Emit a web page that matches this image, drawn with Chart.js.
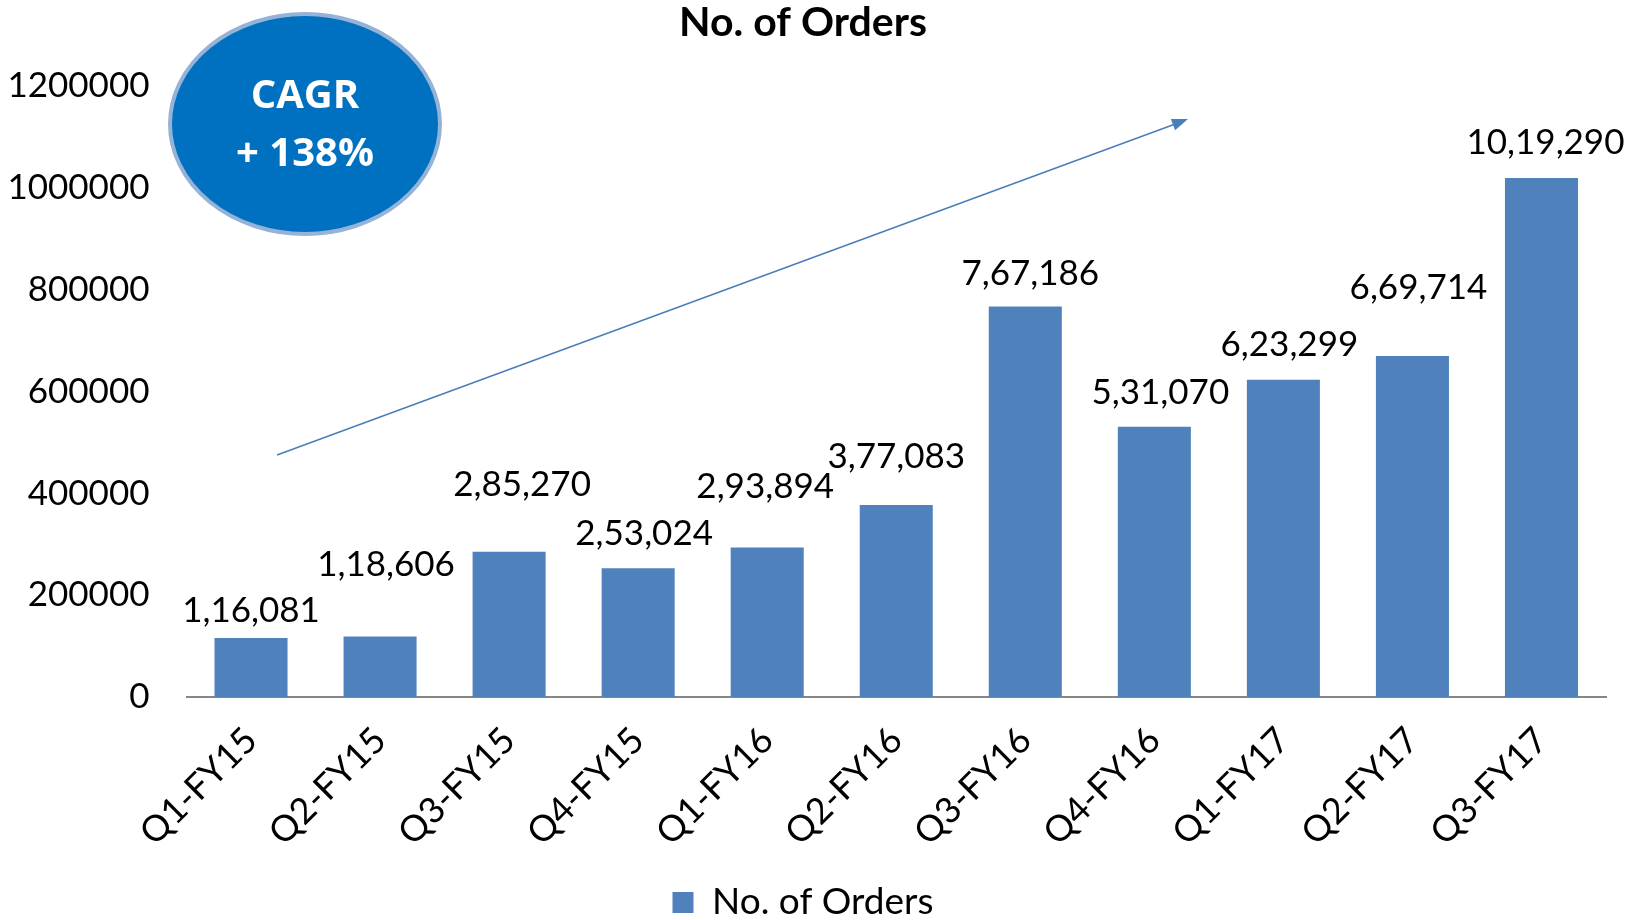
<!DOCTYPE html>
<html>
<head>
<meta charset="utf-8">
<title>No. of Orders</title>
<script src="https://cdn.jsdelivr.net/npm/chart.js@4.4.1/dist/chart.umd.min.js"></script>
<style>
  html, body { margin: 0; padding: 0; background: #fff; overflow: hidden; }
  #wrap { width: 1643px; height: 931px; }
</style>
</head>
<body>
<div id="wrap"><canvas id="myChart"></canvas></div>
<script>
// data
var quarters = ["Q1-FY15","Q2-FY15","Q3-FY15","Q4-FY15","Q1-FY16","Q2-FY16","Q3-FY16","Q4-FY16","Q1-FY17","Q2-FY17","Q3-FY17"];
var orders = [116081, 118606, 285270, 253024, 293894, 377083, 767186, 531070, 623299, 669714, 1019290];
var orderLabels = ["1,16,081","1,18,606","2,85,270","2,53,024","2,93,894","3,77,083","7,67,186","5,31,070","6,23,299","6,69,714","10,19,290"];
var yTicks = [0, 200000, 400000, 600000, 800000, 1000000, 1200000];
var cagrText = ["CAGR", "+ 138%"];

var barBlue = "#4F81BD";
var font = "Lato";

// hand nudges of the value labels (pixels, relative to bar top)
var labelDx = [0, 6, 13, 6, -2, 0, 5, 6, 6, 6, 4];
var labelDy = [-27, -72, -67, -34, -61, -48, -33, -34, -35, -68, -35];

// value labels above bars
var valueLabels = {
  id: "valueLabels",
  afterDatasetsDraw: function(chart) {
    var ctx = chart.ctx;
    var meta = chart.getDatasetMeta(0);
    ctx.save();
    ctx.font = "35px " + font;
    ctx.fillStyle = "#000";
    ctx.textAlign = "center";
    ctx.textBaseline = "middle";
    meta.data.forEach(function(bar, i) {
      ctx.fillText(orderLabels[i], bar.x + labelDx[i], bar.y + labelDy[i]);
    });
    ctx.restore();
  }
};

// CAGR bubble + trend arrow
var extras = {
  id: "extras",
  afterDraw: function(chart) {
    var ctx = chart.ctx;
    ctx.save();
    // arrow
    var x1 = 277, y1 = 455, x2 = 1188, y2 = 119;
    ctx.strokeStyle = "#4A7EBB";
    ctx.fillStyle = "#4A7EBB";
    ctx.lineWidth = 1.6;
    ctx.beginPath();
    ctx.moveTo(x1, y1);
    ctx.lineTo(x2 - 10, y2 + 4);
    ctx.stroke();
    var a = Math.atan2(y2 - y1, x2 - x1);
    ctx.beginPath();
    ctx.moveTo(x2, y2);
    ctx.lineTo(x2 - 16 * Math.cos(a) + 6 * Math.sin(a), y2 - 16 * Math.sin(a) - 6 * Math.cos(a));
    ctx.lineTo(x2 - 16 * Math.cos(a) - 6 * Math.sin(a), y2 - 16 * Math.sin(a) + 6 * Math.cos(a));
    ctx.closePath();
    ctx.fill();
    // bubble
    ctx.beginPath();
    ctx.ellipse(305, 124, 135, 110, 0, 0, Math.PI * 2);
    ctx.fillStyle = "#0070C0";
    ctx.fill();
    ctx.lineWidth = 4;
    ctx.strokeStyle = "#95B3D7";
    ctx.stroke();
    ctx.fillStyle = "#fff";
    ctx.font = "bold 40px 'Open Sans'";
    ctx.textAlign = "center";
    ctx.textBaseline = "middle";
    ctx.fillText(cagrText[0], 305, 97);
    ctx.fillText(cagrText[1], 305, 155);
    ctx.restore();
  }
};

var ctx = document.getElementById("myChart").getContext("2d");
var myChart = new Chart(ctx, {
  type: "bar",
  data: {
    labels: quarters,
    datasets: [{
      label: "No. of Orders",
      data: orders,
      backgroundColor: barBlue,
      categoryPercentage: 1,
      barPercentage: 0.566
    }]
  },
  options: {
    responsive: true,
    maintainAspectRatio: false,
    animation: false,
    layout: { padding: { left: 0, right: 37, top: 0, bottom: 0 } },
    plugins: {
      title: {
        display: true,
        text: "No. of Orders",
        color: "#000",
        font: { family: font, size: 41, weight: "bold", lineHeight: 1.1 },
        padding: { top: 0, bottom: 41 }
      },
      legend: {
        display: true,
        position: "bottom",
        labels: {
          color: "#000",
          font: { family: font, size: 37 },
          boxWidth: 21,
          boxHeight: 21,
          padding: 3
        }
      },
      tooltip: { enabled: false }
    },
    scales: {
      x: {
        grid: { display: false },
        border: { display: true, color: "#868686", width: 2 },
        ticks: {
          color: "#000",
          font: { family: font, size: 36 },
          minRotation: 45,
          maxRotation: 45,
          padding: 14
        },
        afterFit: function(scale) { scale.height = 184; }
      },
      y: {
        min: 0,
        max: 1200000,
        grid: { display: false, drawTicks: false },
        border: { display: false },
        afterBuildTicks: function(scale) {
          scale.ticks = yTicks.map(function(v) { return { value: v }; });
        },
        ticks: {
          color: "#000",
          font: { family: font, size: 35 },
          padding: 37,
          callback: function(v) { return String(v); }
        },
        afterFit: function(scale) { scale.width = 186.5; }
      }
    }
  },
  plugins: [valueLabels, extras]
});
</script>
</body>
</html>
